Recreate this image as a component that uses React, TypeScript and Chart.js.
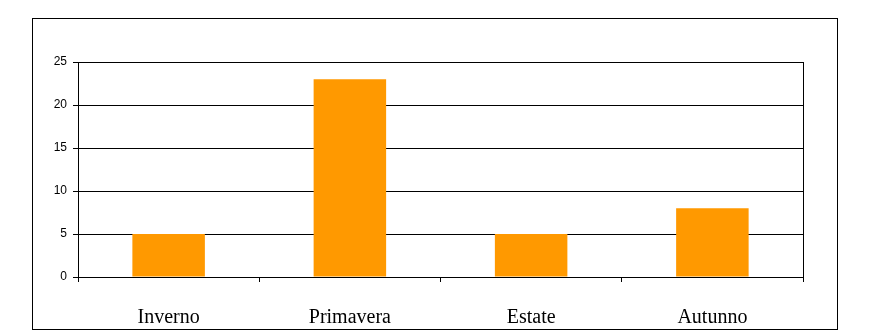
import React, { useEffect, useRef } from "react";
import { Chart, registerables } from "chart.js";

Chart.register(...registerables);

const categories: string[] = ["Inverno", "Primavera", "Estate", "Autunno"];
const values: number[] = [5, 23, 5, 8];
const yMin = 0;
const yMax = 25;
const yStep = 5;

const rightBorder = {
  id: "rightBorder",
  afterDraw(chart: any) {
    const { ctx, chartArea } = chart;
    ctx.save();
    ctx.strokeStyle = "#000";
    ctx.lineWidth = 1;
    ctx.beginPath();
    const x = Math.round(chartArea.right) + 0.5;
    ctx.moveTo(x, chartArea.top);
    ctx.lineTo(x, chartArea.bottom + 5);
    ctx.stroke();
    ctx.restore();
  },
};

export default function App() {
  const ref = useRef<HTMLCanvasElement | null>(null);

  useEffect(() => {
    if (!ref.current) return;
    const chart = new Chart(ref.current, {
      type: "bar",
      data: {
        labels: categories,
        datasets: [
          {
            data: values,
            backgroundColor: "#FF9900",
            borderColor: "#F0A848",
            borderWidth: 0,
            barPercentage: 0.4,
            categoryPercentage: 1,
          },
        ],
      },
      options: {
        animation: false,
        responsive: false,
        maintainAspectRatio: false,
        layout: { padding: { top: 62, right: 66, bottom: 0, left: 0 } },
        plugins: { legend: { display: false }, tooltip: { enabled: false } },
        scales: {
          x: {
            afterFit: (s: any) => {
              s.height = 56;
            },
            grid: {
              drawOnChartArea: false,
              drawTicks: true,
              tickLength: 5,
              color: "#000",
              tickColor: "#000",
            },
            border: { display: true, color: "#000", width: 1 },
            ticks: {
              color: "#000",
              padding: 24,
              font: { family: "'Liberation Serif', 'Times New Roman', serif", size: 20 },
            },
          },
          y: {
            min: yMin,
            max: yMax,
            afterFit: (s: any) => {
              s.width = 78;
            },
            grid: {
              color: "#000",
              lineWidth: 1,
              tickLength: 5,
              tickColor: "#000",
            },
            border: { display: true, color: "#000", width: 1 },
            ticks: {
              stepSize: yStep,
              color: "#000",
              padding: 6,
              font: { family: "'Liberation Sans', Arial, sans-serif", size: 12 },
            },
          },
        },
      },
      plugins: [rightBorder],
    });
    return () => chart.destroy();
  }, []);

  return (
    <div style={{ position: "fixed", left: 0, top: 0, width: 869, height: 333, background: "#fff" }}>
      <div
        style={{
          position: "absolute",
          left: 32,
          top: 18,
          width: 806,
          height: 312,
          border: "1px solid #000",
          boxSizing: "border-box",
        }}
      />
      <canvas ref={ref} width={869} height={333} style={{ position: "absolute", left: 0, top: 0 }} />
    </div>
  );
}
